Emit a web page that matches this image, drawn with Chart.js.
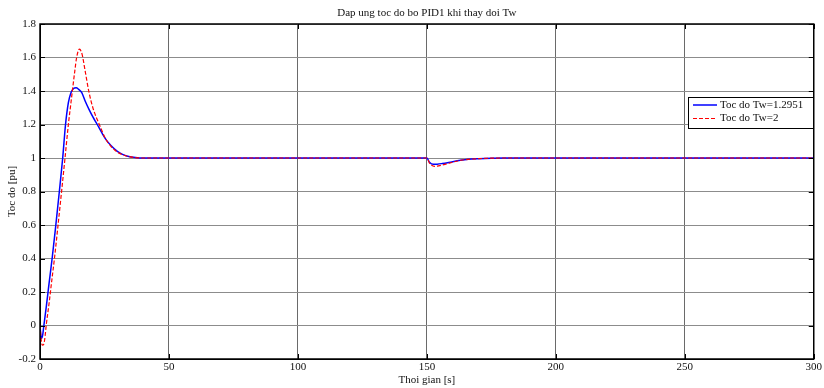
<!DOCTYPE html>
<html>
<head>
<meta charset="utf-8">
<script src="https://cdn.jsdelivr.net/npm/chart.js@4/dist/chart.umd.min.js"></script>
<style>
  html,body{margin:0;padding:0;background:#fff;}
  #wrap{width:824px;height:388px;}
</style>
</head>
<body>
<div id="wrap"><canvas id="c" width="824" height="388"></canvas></div>
<script>
// du lieu doc tu hinh
const tBlue = [0,0.5,1,1.5,2.5,3.5,4.7,6,7.5,8.8,9.9,11,12,13,14,15,16.2,17.5,19,20.5,22.2,24,25.6,27.5,30,32,34,37,40,55,150,151,152.5,154,156,158,160,163,166,170,175,180,300];
const vBlue = [0,-0.077,-0.06,0,0.12,0.25,0.4,0.58,0.8,1.0,1.2,1.33,1.39,1.415,1.42,1.41,1.39,1.34,1.29,1.245,1.2,1.15,1.11,1.075,1.04,1.022,1.011,1.003,1.0,1.0,1.0,0.975,0.962,0.963,0.967,0.972,0.978,0.986,0.992,0.996,0.999,1.0,1.0];

const tRed = [0,0.5,0.9,1.5,2,2.4,3.5,4.5,5.6,7,8.5,9.7,11,12,12.7,13.5,14.2,15.3,16.3,17.5,18.9,20.5,23,25.6,27.5,30,32,34,37,40,150,151,153,155,157,160,163,166,170,175,180,300];
const vRed = [0,-0.09,-0.117,-0.11,-0.06,0,0.13,0.26,0.4,0.6,0.82,1.0,1.2,1.33,1.42,1.52,1.6,1.65,1.62,1.52,1.4,1.3,1.2,1.11,1.07,1.035,1.02,1.01,1.002,1.0,1.0,0.97,0.95,0.955,0.962,0.975,0.986,0.992,0.996,0.999,1.0,1.0];

const labels = ["Toc do Tw=1.2951","Toc do Tw=2"];
const FONT = "'Liberation Serif', 'Times New Roman', serif";

function pts(ts, vs){ return ts.map((t,i)=>({x:t, y:vs[i]})); }

// khung, vach chia ben trong, tieu de, chu giai
const decor = {
  id:"decor",
  afterDraw(chart){
    const ctx = chart.ctx, a = chart.chartArea;
    const xs = chart.scales.x, ys = chart.scales.y;
    ctx.save();
    ctx.strokeStyle = "#000";
    ctx.lineWidth = 1;
    // vach chia
    ctx.beginPath();
    xs.ticks.forEach(tk=>{
      const px = Math.round(xs.getPixelForValue(tk.value))+0.5;
      ctx.moveTo(px,a.bottom); ctx.lineTo(px,a.bottom-5);
      ctx.moveTo(px,a.top); ctx.lineTo(px,a.top+5);
    });
    ys.ticks.forEach(tk=>{
      const py = Math.round(ys.getPixelForValue(tk.value))+0.5;
      ctx.moveTo(a.left,py); ctx.lineTo(a.left+5,py);
      ctx.moveTo(a.right,py); ctx.lineTo(a.right-5,py);
    });
    ctx.stroke();
    ctx.lineWidth = 1.5;
    ctx.strokeRect(a.left, a.top, a.right-a.left, a.bottom-a.top);

    // chu
    ctx.fillStyle = "#111";
    ctx.font = "11px " + FONT;
    ctx.textAlign = "center";
    ctx.textBaseline = "middle";
    const cx = (a.left+a.right)/2;
    ctx.fillText("Dap ung toc do bo PID1 khi thay doi Tw", cx, 13);
    ctx.fillText("Thoi gian [s]", cx, 380);
    ctx.save();
    ctx.translate(12, (a.top+a.bottom)/2);
    ctx.rotate(-Math.PI/2);
    ctx.fillText("Toc do [pu]", 0, 0);
    ctx.restore();

    // chu giai
    const bx = 688, by = 97, bw = 125, bh = 31;
    ctx.fillStyle = "#fff";
    ctx.fillRect(bx,by,bw,bh);
    ctx.lineWidth = 1;
    ctx.strokeStyle = "#000";
    ctx.strokeRect(bx+0.5,by+0.5,bw,bh);
    chart.data.datasets.forEach((ds,i)=>{
      const y = 105 + i*13.5;
      ctx.strokeStyle = ds.borderColor;
      ctx.lineWidth = ds.borderWidth;
      ctx.setLineDash(ds.borderDash || []);
      ctx.beginPath(); ctx.moveTo(693,y); ctx.lineTo(717,y); ctx.stroke();
      ctx.setLineDash([]);
      ctx.fillStyle = "#111";
      ctx.textAlign = "left";
      ctx.fillText(ds.label, 720, y);
    });
    ctx.restore();
  }
};

new Chart(document.getElementById("c"), {
  type: "line",
  data: {
    datasets: [
      { label: labels[0], data: pts(tBlue,vBlue), borderColor:"#0000ff", borderWidth:1.5,
        pointRadius:0, cubicInterpolationMode:"monotone", fill:false, order:1 },
      { label: labels[1], data: pts(tRed,vRed), borderColor:"#ff0000", borderWidth:1.2,
        borderDash:[4,2], pointRadius:0, cubicInterpolationMode:"monotone", fill:false, order:0 }
    ]
  },
  options: {
    responsive:false, animation:false,
    layout:{ padding:{ left:0, right:8, top:24, bottom:0 } },
    plugins:{ legend:{display:false}, tooltip:{enabled:false}, title:{display:false} },
    scales:{
      x:{
        type:"linear", min:0, max:300,
        afterFit(s){ s.height = 29; },
        ticks:{ stepSize:50, color:"#111", font:{family:FONT,size:11}, padding:2, maxRotation:0 },
        grid:{ color:"#6a6a6a", drawTicks:false },
        border:{ display:true, color:"#000" }
      },
      y:{
        min:-0.2, max:1.8,
        afterFit(s){ s.width = 40; },
        ticks:{ stepSize:0.2, color:"#111", font:{family:FONT,size:11}, padding:4,
          callback:v=>String(Number(v.toFixed(1))) },
        grid:{ color:"#8c8c8c", drawTicks:false },
        border:{ display:true, color:"#000" }
      }
    }
  },
  plugins:[decor]
});
</script>
</body>
</html>
